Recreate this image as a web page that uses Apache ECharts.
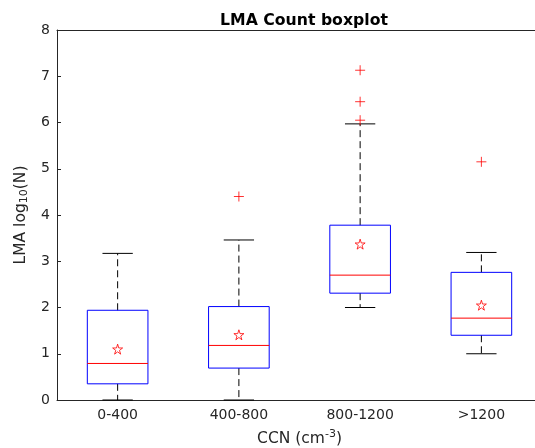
<!DOCTYPE html>
<html>
<head>
<meta charset="utf-8">
<script src="https://cdn.jsdelivr.net/npm/echarts@6/dist/echarts.min.js"></script>
<style>html,body{margin:0;padding:0;background:#fff;overflow:hidden;}#c{width:535px;height:448px;}</style>
</head>
<body>
<div id="c"></div>
<script>
const categories = ['0-400', '400-800', '800-1200', '>1200'];
const whiskerLow = [0, 0, 2.0, 1.0];
const q1 = [0.35, 0.69, 2.31, 1.40];
const median = [0.79, 1.18, 2.70, 1.77];
const q3 = [1.94, 2.02, 3.78, 2.76];
const whiskerHigh = [3.17, 3.46, 5.97, 3.19];
const means = [1.10, 1.41, 3.37, 2.05];
const outliers = [[1, 4.40], [2, 7.13], [2, 6.45], [2, 6.05], [3, 5.15]];
const yTicks = [0, 1, 2, 3, 4, 5, 6, 7, 8];

const boxData = categories.map((c, i) => [i, whiskerLow[i], q1[i], median[i], q3[i], whiskerHigh[i]]);
const meanData = categories.map((c, i) => [i, means[i]]);

const axisColor = '#262626';
const fontFamily = 'DejaVu Sans';

const chart = echarts.init(document.getElementById('c'), null, {renderer: 'canvas'});

function renderBox(params, api) {
  const x = api.value(0);
  const lo = api.coord([x, api.value(1)]);
  const b1 = api.coord([x, api.value(2)]);
  const md = api.coord([x, api.value(3)]);
  const b3 = api.coord([x, api.value(4)]);
  const hi = api.coord([x, api.value(5)]);
  const w = api.size([1, 0])[0];
  const bw = w * 0.5;
  const cw = w * 0.25;
  const cx = lo[0];
  const dashStyle = {stroke: '#000', lineWidth: 1, lineDash: [7, 4]};
  const capStyle = {stroke: '#000', lineWidth: 1};
  return {
    type: 'group',
    children: [
      {type: 'line', shape: {x1: cx, y1: b3[1], x2: cx, y2: hi[1]}, style: dashStyle},
      {type: 'line', shape: {x1: cx, y1: b1[1], x2: cx, y2: lo[1]}, style: dashStyle},
      {type: 'line', shape: {x1: cx - cw / 2, y1: hi[1], x2: cx + cw / 2, y2: hi[1]}, style: capStyle},
      {type: 'line', shape: {x1: cx - cw / 2, y1: lo[1], x2: cx + cw / 2, y2: lo[1]}, style: capStyle},
      {type: 'rect', shape: {x: cx - bw / 2, y: b3[1], width: bw, height: b1[1] - b3[1]}, style: {fill: 'none', stroke: '#0000ff', lineWidth: 1}},
      {type: 'line', shape: {x1: cx - bw / 2, y1: md[1], x2: cx + bw / 2, y2: md[1]}, style: {stroke: '#ff0000', lineWidth: 1}}
    ]
  };
}

const option = {
  backgroundColor: '#fff',
  animation: false,
  title: {
    text: 'LMA Count boxplot',
    left: 299, top: 8, textAlign: 'center',
    textStyle: {fontFamily: fontFamily, fontSize: 15.7, fontWeight: 'bold', color: '#000'}
  },
  grid: {left: 57, width: 485, top: 30, height: 370, containLabel: false, outerBoundsMode: 'none'},
  xAxis: [{
    type: 'category', data: categories, position: 'bottom',
    boundaryGap: true,
    axisLine: {lineStyle: {color: axisColor, width: 1}},
    axisTick: {inside: true, alignWithLabel: true, length: 4, lineStyle: {color: axisColor}},
    axisLabel: {margin: 8, color: axisColor, fontFamily: fontFamily, fontSize: 14},
    splitLine: {show: false},
    name: '{a|CCN (cm}{s|-3}{a|)}',
    nameLocation: 'middle', nameGap: 29,
    nameTextStyle: {
      rich: {
        a: {fontFamily: fontFamily, fontSize: 15.5, color: axisColor},
        s: {fontFamily: fontFamily, fontSize: 11, color: axisColor, verticalAlign: 'top', padding: [0, 0, 8, 0]}
      }
    }
  }, {
    type: 'category', data: categories, position: 'top',
    boundaryGap: true,
    axisLine: {lineStyle: {color: axisColor, width: 1}},
    axisTick: {inside: true, alignWithLabel: true, length: 4, lineStyle: {color: axisColor}},
    axisLabel: {show: false}
  }],
  yAxis: [{
    type: 'value', min: 0, max: 8, interval: 1, position: 'left',
    axisLine: {show: true, lineStyle: {color: axisColor, width: 1}},
    axisTick: {show: true, inside: true, length: 4, lineStyle: {color: axisColor}},
    axisLabel: {margin: 7, color: axisColor, fontFamily: fontFamily, fontSize: 14,
      formatter: v => yTicks.includes(v) ? String(v) : ''},
    splitLine: {show: false},
    name: '{a|LMA log}{s|10}{a|(N)}',
    nameLocation: 'middle', nameGap: 27,
    nameTextStyle: {
      rich: {
        a: {fontFamily: fontFamily, fontSize: 15.5, color: axisColor},
        s: {fontFamily: fontFamily, fontSize: 11, color: axisColor, verticalAlign: 'bottom', padding: [7, 0, 0, 0]}
      }
    }
  }],
  series: [{
    type: 'custom',
    renderItem: renderBox,
    data: boxData,
    encode: {x: 0, y: [1, 2, 3, 4, 5]},
    z: 2
  }, {
    type: 'scatter',
    data: meanData,
    symbol: 'path://M50,0 L61,35 L98,35 L68,57 L79,91 L50,70 L21,91 L32,57 L2,35 L39,35 Z',
    symbolSize: 10,
    itemStyle: {color: 'rgba(0,0,0,0)', borderColor: '#ff0000', borderWidth: 1},
    z: 3
  }, {
    type: 'scatter',
    data: outliers,
    symbol: 'path://M5,0 L5,10 M0,5 L10,5',
    symbolSize: 10,
    itemStyle: {color: 'rgba(0,0,0,0)', borderColor: '#ff0000', borderWidth: 1},
    z: 3
  }]
};
chart.setOption(option);
</script>
</body>
</html>
